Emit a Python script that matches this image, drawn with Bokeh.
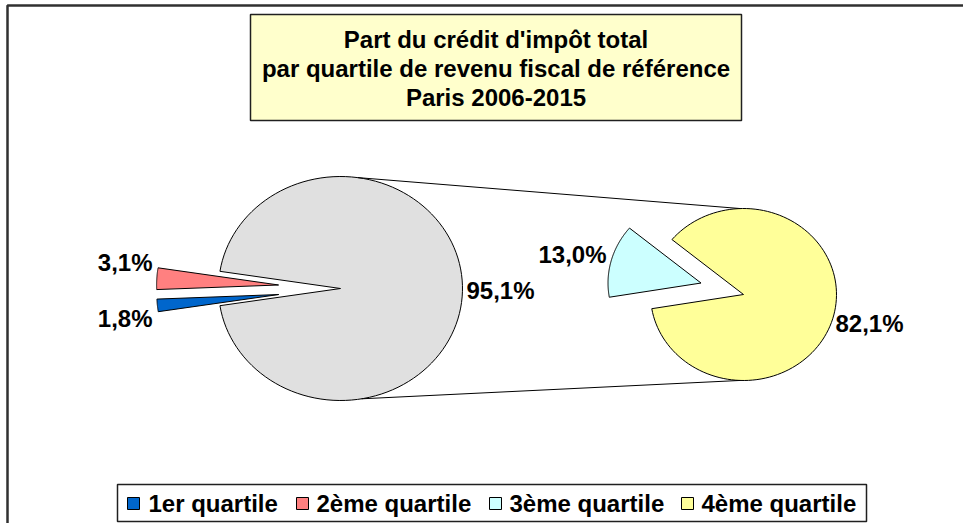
import numpy as np
from bokeh.plotting import figure
from bokeh.models import Range1d
from bokeh.core.properties import value
from bokeh.embed import file_html
from bokeh.resources import INLINE

# ---- data ----
title_lines = ["Part du crédit d'impôt total",
               "par quartile de revenu fiscal de référence",
               "Paris 2006-2015"]
categories = ["1er quartile", "2ème quartile", "3ème quartile", "4ème quartile"]
shares = [1.8, 3.1, 13.0, 82.1]
colors = ["#0066CC", "#FF8080", "#CCFFFF", "#FFFF99"]
other_color = "#E0E0E0"
labels = ["1,8%", "3,1%", "13,0%", "82,1%"]

other_share = shares[2] + shares[3]
other_label = f"{other_share:.1f}%".replace(".", ",")

# ---- figure (data coords == picture pixel coords, y downward) ----
W, H = 963, 523
p = figure(width=W, height=H, output_backend="svg", toolbar_location=None,
           x_range=Range1d(0, W), y_range=Range1d(H, 0),
           x_axis_location=None, y_axis_location=None, min_border=0)
p.grid.visible = False
p.outline_line_color = None
p.background_fill_color = "white"

FONT = value("Liberation Sans")

def wedge_poly(cx, cy, rx, ry, a0, a1, explode=0.0, n=120):
    mid = np.radians((a0 + a1) / 2.0)
    cx = cx + explode * np.cos(mid)
    cy = cy - explode * np.sin(mid)
    t = np.radians(np.linspace(a0, a1, n))
    xs = np.concatenate([[cx], cx + rx * np.cos(t), [cx]])
    ys = np.concatenate([[cy], cy - ry * np.sin(t), [cy]])
    return list(xs), list(ys)

# outer frame (left and top edges visible)
p.quad(left=[7], right=[W + 20], top=[5], bottom=[H + 20], fill_color=None,
       line_color="#303030", line_width=2.5)

# ---- first pie: 1er, 2eme, other ----
c1x, c1y, r1x, r1y = 340, 288, 122, 112
pie1_vals = [shares[0], shares[1], other_share]
pie1_cols = [colors[0], colors[1], other_color]
pie1_expl = [62, 62, 0]
small_span = (shares[0] + shares[1]) / 100 * 360
a = 180 + small_span / 2
xs1, ys1 = [], []
for v, e in zip(pie1_vals, pie1_expl):
    span = v / 100 * 360
    x, y = wedge_poly(c1x, c1y, r1x, r1y, a, a - span, e)
    xs1.append(x); ys1.append(y)
    a -= span
p.patches(xs1, ys1, fill_color=pie1_cols, line_color="black", line_width=1)

# ---- second pie: 3eme, 4eme ----
c2x, c2y, r2x, r2y = 743, 294, 93, 86
pie2_vals = [shares[2], shares[3]]
pie2_cols = [colors[2], colors[3]]
pie2_expl = [44, 0]
a = 189.5
xs2, ys2 = [], []
for v, e in zip(pie2_vals, pie2_expl):
    span = v / other_share * 360
    x, y = wedge_poly(c2x, c2y, r2x, r2y, a, a - span, e)
    xs2.append(x); ys2.append(y)
    a -= span
p.patches(xs2, ys2, fill_color=pie2_cols, line_color="black", line_width=1)

# connector lines
def ell(cx, cy, rx, ry, deg):
    t = np.radians(deg)
    return cx + rx * np.cos(t), cy - ry * np.sin(t)
t1 = ell(c1x, c1y, r1x, r1y, 82); t2 = ell(c2x, c2y, r2x, r2y, 92)
b1 = ell(c1x, c1y, r1x, r1y, -80); b2 = ell(c2x, c2y, r2x, r2y, -92)
p.segment(x0=[t1[0], b1[0]], y0=[t1[1], b1[1]], x1=[t2[0], b2[0]], y1=[t2[1], b2[1]],
          line_color="black", line_width=1)

# data labels
lab_text = [labels[1], labels[0], other_label, labels[2], labels[3]]
lab_x = [152, 152, 466, 606, 835]
lab_y = [262, 318, 290, 254, 323]
lab_align = ["right", "right", "left", "right", "left"]
for t, x, y, al in zip(lab_text, lab_x, lab_y, lab_align):
    p.text(x=[x], y=[y], text=[t], text_font=FONT, text_font_style="bold",
           text_font_size="24px", text_align=al, text_baseline="middle",
           text_color="black")

# title box
p.quad(left=[250], right=[741], top=[14], bottom=[120], fill_color="#FFFFCC",
       line_color="#202020", line_width=1.5)
p.text(x=[495.5] * 3, y=[39, 68, 97], text=title_lines, text_font=FONT,
       text_font_style="bold", text_font_size="24px", text_align="center",
       text_baseline="middle", text_color="black")

# legend
p.quad(left=[117], right=[866], top=[484], bottom=[521], fill_color="white",
       line_color="#202020", line_width=1.5)
sq_x = [133, 302, 495, 687]
tx_x = [148, 316, 509, 701]
p.rect(x=sq_x, y=[503] * 4, width=12, height=12, fill_color=colors,
       line_color="black", line_width=1)
p.text(x=tx_x, y=[503] * 4, text=categories, text_font=FONT,
       text_font_style="bold", text_font_size="24px", text_align="left",
       text_baseline="middle", text_color="black")

open("out.html", "w").write(file_html(p, INLINE))
